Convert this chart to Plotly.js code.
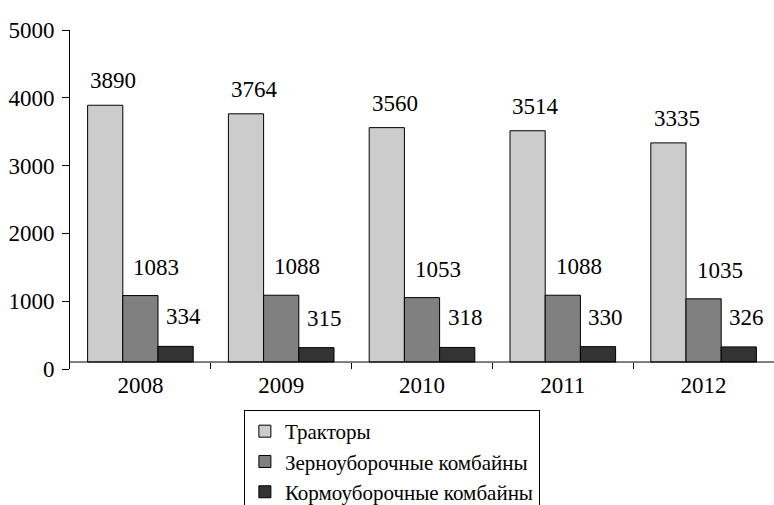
<!DOCTYPE html>
<html>
<head>
<meta charset="utf-8">
<script src="https://cdn.plot.ly/plotly-3.0.1.min.js"></script>
<style>html,body{margin:0;padding:0;background:#fff;}#chart{width:774px;height:505px;}</style>
</head>
<body>
<div id="chart"></div>
<script>
var years = ['2008', '2009', '2010', '2011', '2012'];
var seriesNames = ['Тракторы', 'Зерноуборочные комбайны', 'Кормоуборочные комбайны'];
var tractors = [3890, 3764, 3560, 3514, 3335];
var grainHarvesters = [1083, 1088, 1053, 1088, 1035];
var forageHarvesters = [334, 315, 318, 330, 326];
var yTicks = [0, 1000, 2000, 3000, 4000, 5000];

var allSeries = [tractors, grainHarvesters, forageHarvesters];
var colors = ['#cccccc', '#808080', '#333333'];
var axisCross = 103; // value where the category axis line crosses
var font = 'Liberation Serif, Times New Roman, serif';

var traces = allSeries.map(function (vals, i) {
  return {
    type: 'bar',
    name: seriesNames[i],
    x: years,
    base: axisCross,
    y: vals.map(function (v) { return v - axisCross; }),
    marker: {color: colors[i], line: {color: '#000', width: 1}},
    hoverinfo: 'skip'
  };
});

var xShifts = [-27, 16, 43];
var yShifts = [10, 14, 15];
var annotations = [];
allSeries.forEach(function (vals, i) {
  vals.forEach(function (v, j) {
    annotations.push({
      x: j, y: v, xref: 'x', yref: 'y',
      text: String(v), showarrow: false,
      xanchor: 'center', yanchor: 'bottom',
      xshift: xShifts[i], yshift: yShifts[i],
      font: {family: font, size: 23, color: '#000'}
    });
  });
});

var layout = {
  width: 774, height: 505,
  margin: {l: 70, r: 0, t: 30, b: 136, autoexpand: false},
  paper_bgcolor: '#fff', plot_bgcolor: '#fff',
  barmode: 'group', bargap: 0.25, bargroupgap: 0,
  font: {family: font, size: 23, color: '#000'},
  xaxis: {
    type: 'category', range: [-0.5, 4.5], fixedrange: true,
    showline: false, showgrid: false, zeroline: false,
    ticks: 'inside', ticklen: 6, tickcolor: '#000', tickwidth: 1,
    tickson: 'boundaries',
    tickfont: {family: font, size: 23, color: '#000'}
  },
  yaxis: {
    range: [0, 5000], tickvals: yTicks, ticktext: yTicks.map(String),
    showline: true, linecolor: '#000', linewidth: 1,
    showgrid: false, zeroline: false,
    ticks: 'outside', ticklen: 7, tickcolor: '#000', tickwidth: 1,
    ticklabelstandoff: 3,
    tickfont: {family: font, size: 23, color: '#000'}
  },
  shapes: [{
    type: 'line', xref: 'paper', yref: 'y', x0: 0, x1: 1, y0: axisCross, y1: axisCross,
    line: {color: '#000', width: 1}, layer: 'above'
  }],
  annotations: annotations,
  showlegend: true,
  legend: {
    x: 0.247, y: -0.121, xanchor: 'left', yanchor: 'top',
    orientation: 'v', bgcolor: '#fff', bordercolor: '#000', borderwidth: 1,
    font: {family: font, size: 21, color: '#000'},
    traceorder: 'normal', itemclick: false, itemdoubleclick: false
  }
};

Plotly.newPlot('chart', traces, layout, {staticPlot: true, displayModeBar: false});
</script>
</body>
</html>
